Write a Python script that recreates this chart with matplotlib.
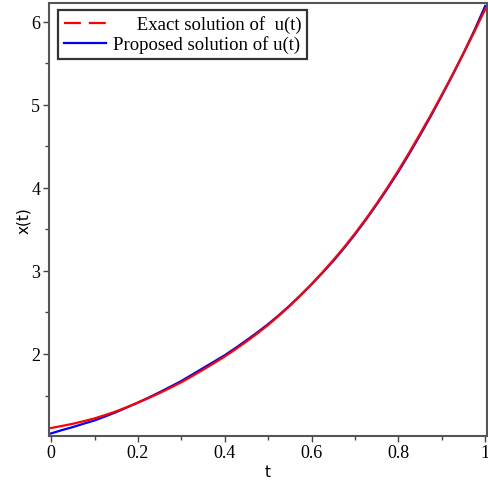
import matplotlib
matplotlib.use("Agg")
import matplotlib.pyplot as plt
from matplotlib.lines import Line2D
from matplotlib.ticker import MultipleLocator, FixedLocator

t = [0.0, 0.025, 0.05, 0.075, 0.1, 0.125, 0.15, 0.175, 0.2, 0.225, 0.25,
     0.275, 0.3, 0.325, 0.35, 0.375, 0.4, 0.425, 0.45, 0.475, 0.5,
     0.525, 0.55, 0.575, 0.6, 0.625, 0.65, 0.675, 0.7, 0.725, 0.75,
     0.775, 0.8, 0.825, 0.85, 0.875, 0.9, 0.925, 0.95, 0.975, 1.0]
exact = [1.109, 1.134, 1.160, 1.191, 1.225, 1.266, 1.310, 1.361, 1.415, 1.471, 1.530,
         1.594, 1.660, 1.734, 1.810, 1.889, 1.970, 2.058, 2.150, 2.247, 2.350,
         2.462, 2.580, 2.707, 2.840, 2.982, 3.130, 3.285, 3.450, 3.625, 3.810,
         4.005, 4.210, 4.425, 4.650, 4.880, 5.120, 5.365, 5.620, 5.880, 6.150]
proposed = [1.044, 1.084, 1.120, 1.161, 1.200, 1.249, 1.300, 1.358, 1.415, 1.476, 1.540,
            1.607, 1.675, 1.752, 1.830, 1.907, 1.985, 2.073, 2.165, 2.260, 2.360,
            2.469, 2.585, 2.710, 2.840, 2.977, 3.120, 3.275, 3.440, 3.615, 3.800,
            3.993, 4.195, 4.410, 4.635, 4.867, 5.110, 5.360, 5.620, 5.895, 6.190]
xticks = [0, 0.2, 0.4, 0.6, 0.8, 1]
xticklabels = ["0", "0.2", "0.4", "0.6", "0.8", "1"]
yticks = [2, 3, 4, 5, 6]
labels = ["Exact solution of  u(t)", "Proposed solution of u(t)"]

fig = plt.figure(figsize=(4.88, 4.85), dpi=100)
ax = fig.add_axes([0.0994, 0.099, 0.8976, 0.8928])

ax.plot(t, proposed, color="#0000ff", lw=1.6, zorder=2)
ax.plot(t, exact, color="#ff0000", lw=1.6, zorder=3)

ax.set_xlim(-0.006, 1.003)
ax.set_ylim(1.013, 6.225)

ax.xaxis.set_major_locator(FixedLocator(xticks))
ax.set_xticklabels(xticklabels)
ax.xaxis.set_minor_locator(MultipleLocator(0.1))
ax.yaxis.set_major_locator(FixedLocator(yticks))
ax.yaxis.set_minor_locator(MultipleLocator(0.5))

for lab in ax.get_xticklabels() + ax.get_yticklabels():
    lab.set_family("Liberation Serif")
    lab.set_fontsize(13)

ax.tick_params(which="major", direction="out", length=4, width=1, color="#444444", pad=2)
ax.tick_params(which="minor", direction="out", length=3, width=1, color="#444444")

for s in ax.spines.values():
    s.set_color("#555555")
    s.set_linewidth(1.5)

ax.set_xlabel("t", family="DejaVu Sans", fontsize=11, labelpad=2)
ax.set_ylabel("x(t)", family="DejaVu Sans", fontsize=11, labelpad=0)

handles = [Line2D([], [], color="#ff0000", lw=1.6, linestyle=(0, (7.6, 3.6))),
           Line2D([], [], color="#0000ff", lw=1.6)]
leg = ax.legend(handles, ["     " + labels[0], labels[1]], loc="upper left",
                bbox_to_anchor=(0.022, 0.984), frameon=True, fancybox=False,
                prop={"family": "Liberation Serif", "size": 13.5},
                handlelength=2.25, handletextpad=0.35, borderpad=0.3,
                labelspacing=0.1, borderaxespad=0)
leg.get_frame().set_edgecolor("black")
leg.get_frame().set_linewidth(1.6)

fig.savefig("out.png", dpi=100)
